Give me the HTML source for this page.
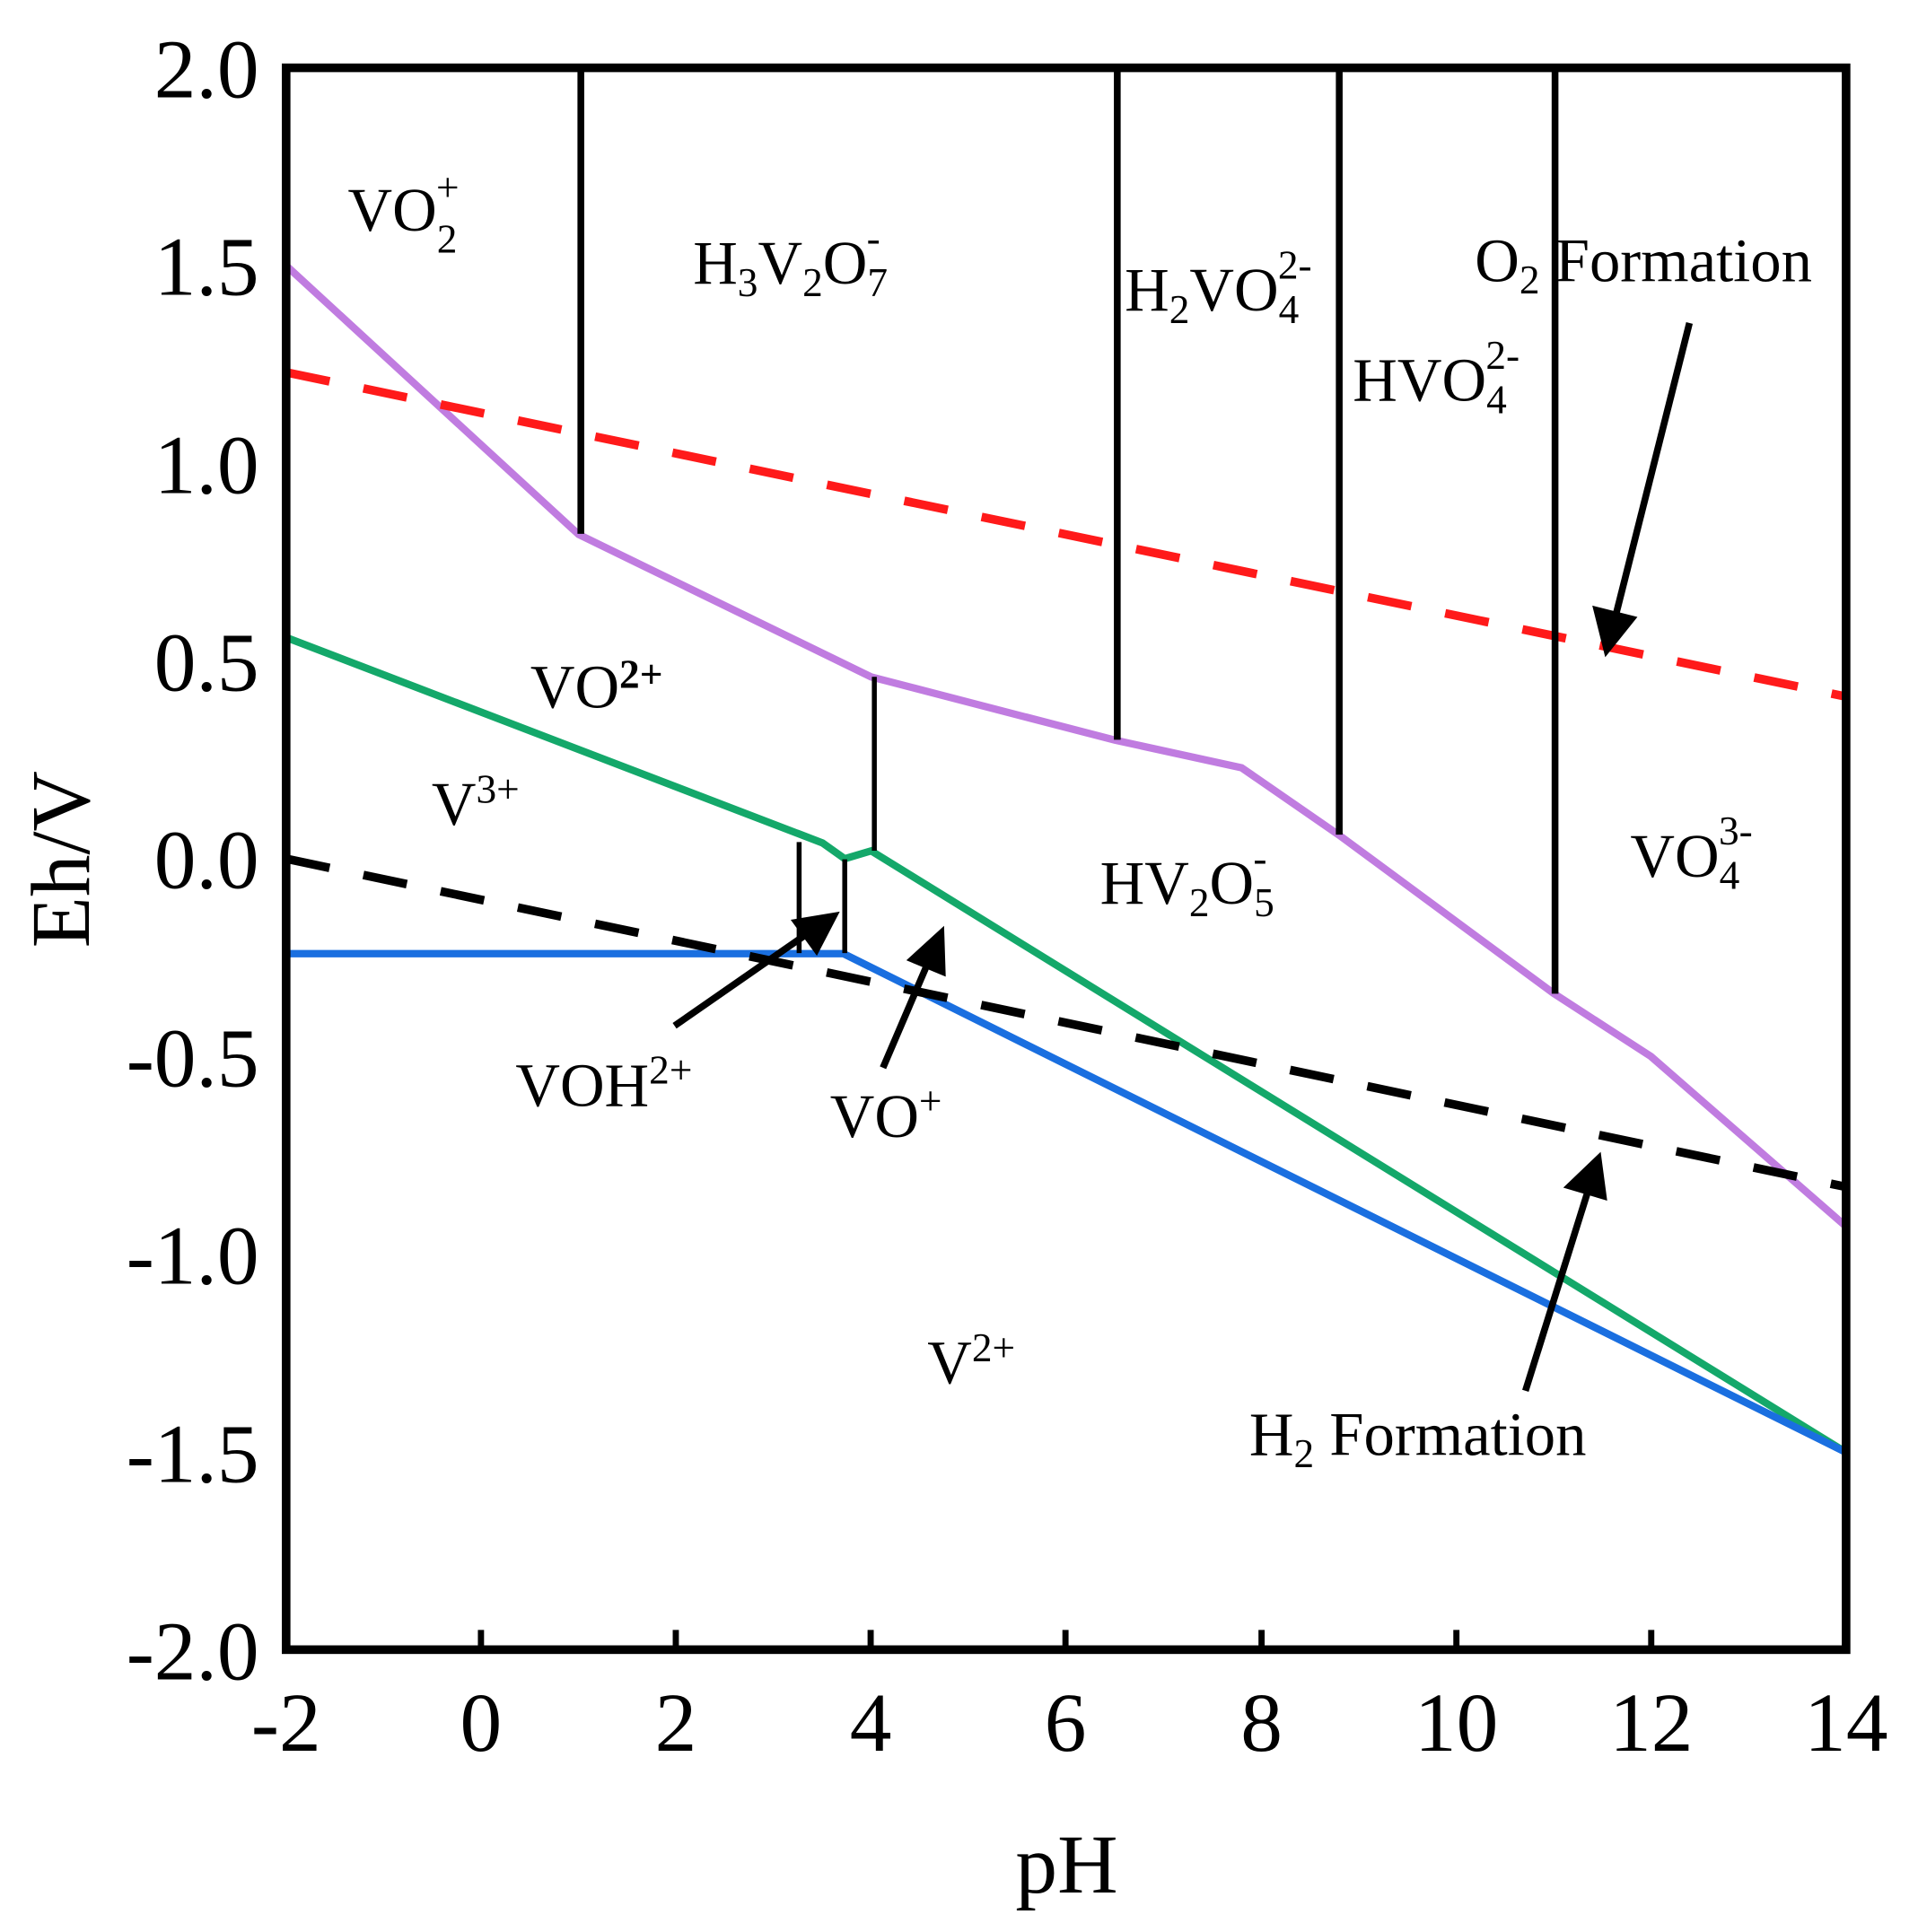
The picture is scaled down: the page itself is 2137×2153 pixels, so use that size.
<!DOCTYPE html>
<html><head><style>html,body{margin:0;padding:0;background:#fff}svg{display:block}</style></head>
<body>
<svg width="2137" height="2153" viewBox="0 0 1555.3 1567" xmlns="http://www.w3.org/2000/svg" font-family="Liberation Serif, serif">
<!-- series -->
<polyline fill="none" stroke="#c07ce0" stroke-width="6" points="232,215.4 469.2,433.5 706.4,549 904,600.3 1006.8,622.7 1085.8,677.3 1259.7,805.6 1338.8,856.9 1497,994.8"/>
<polyline fill="none" stroke="#14a86a" stroke-width="6" points="232,517 667,683.7 685,696.5 706.4,690.1 1497,1178"/>
<polyline fill="none" stroke="#1a6fe0" stroke-width="6" points="232,773.5 684,773.5 1497,1178"/>
<line x1="232" y1="302" x2="1497" y2="565" stroke="#ff1a1a" stroke-width="7" stroke-dasharray="36,28"/>
<line x1="232" y1="696.5" x2="1497" y2="962.7" stroke="#000" stroke-width="7" stroke-dasharray="36,28"/>
<!-- verticals -->
<g stroke="#000">
<line x1="471" y1="55" x2="471" y2="433" stroke-width="5.5"/>
<line x1="906" y1="55" x2="906" y2="600" stroke-width="5.5"/>
<line x1="1086" y1="55" x2="1086" y2="677" stroke-width="5.5"/>
<line x1="1261" y1="55" x2="1261" y2="806" stroke-width="5.5"/>
<line x1="709" y1="549" x2="709" y2="690" stroke-width="4"/>
<line x1="648" y1="683" x2="648" y2="773" stroke-width="4"/>
<line x1="685" y1="697" x2="685" y2="773" stroke-width="4"/>
</g>
<!-- arrows -->
<g stroke="#000" stroke-width="5.5" fill="#000">
<line x1="1370" y1="262" x2="1310" y2="500"/><polygon points="1303,527 1295,495 1323,502"/>
<line x1="1237" y1="1128" x2="1288" y2="965"/><polygon points="1296,940 1300,970 1273,962"/>
<line x1="547" y1="832" x2="655" y2="757"/><polygon points="676,743 662,770 646,748"/>
<line x1="716" y1="866" x2="752" y2="782"/><polygon points="763,757 764,788 740,778"/>
</g>
<!-- frame -->
<rect x="232" y="55" width="1265" height="1283" fill="none" stroke="#000" stroke-width="7"/>
<g stroke="#000" stroke-width="5">
<line x1="390" y1="1338" x2="390" y2="1322"/><line x1="548" y1="1338" x2="548" y2="1322"/>
<line x1="706" y1="1338" x2="706" y2="1322"/><line x1="864" y1="1338" x2="864" y2="1322"/>
<line x1="1023" y1="1338" x2="1023" y2="1322"/><line x1="1181" y1="1338" x2="1181" y2="1322"/>
<line x1="1339" y1="1338" x2="1339" y2="1322"/>
</g>
<!-- tick labels -->
<g font-size="68" text-anchor="end">
<text x="210" y="79">2.0</text><text x="210" y="239">1.5</text><text x="210" y="400">1.0</text>
<text x="210" y="560">0.5</text><text x="210" y="720">0.0</text><text x="210" y="881">-0.5</text>
<text x="210" y="1041">-1.0</text><text x="210" y="1202">-1.5</text><text x="210" y="1362">-2.0</text>
</g>
<g font-size="68" text-anchor="middle">
<text x="232" y="1420">-2</text><text x="390" y="1420">0</text><text x="548" y="1420">2</text>
<text x="706" y="1420">4</text><text x="864" y="1420">6</text><text x="1023" y="1420">8</text>
<text x="1181" y="1420">10</text><text x="1339" y="1420">12</text><text x="1497" y="1420">14</text>
<text x="865" y="1535" font-size="68">pH</text>
</g>
<text transform="translate(72,697) rotate(-90)" font-size="68" text-anchor="middle">Eh/V</text>
<!-- region labels -->
<g font-size="50">
<text x="282" y="187">VO<tspan font-size="33" dy="18">2</tspan><tspan font-size="33" dx="-17" dy="-42">+</tspan></text>
<text x="562" y="230">H<tspan font-size="33" dy="10">3</tspan><tspan dy="-10">V</tspan><tspan font-size="33" dy="10">2</tspan><tspan dy="-10">O</tspan><tspan font-size="33" dy="10">7</tspan><tspan font-size="33" dx="-17" dy="-36">-</tspan></text>
<text x="912" y="252">H<tspan font-size="33" dy="10">2</tspan><tspan dy="-10">VO</tspan><tspan font-size="33" dy="10">4</tspan><tspan font-size="33" dx="-17" dy="-36">2-</tspan></text>
<text x="1097" y="325">HVO<tspan font-size="33" dy="10">4</tspan><tspan font-size="33" dx="-17" dy="-36">2-</tspan></text>
<text x="1196" y="228">O<tspan font-size="33" dy="10">2</tspan><tspan dy="-10"> Formation</tspan></text>
<text x="430" y="574">VO<tspan font-size="33" font-weight="bold" dy="-16">2+</tspan></text>
<text x="350" y="669">V<tspan font-size="33" dy="-18">3+</tspan></text>
<text x="892" y="733">HV<tspan font-size="33" dy="10">2</tspan><tspan dy="-10">O</tspan><tspan font-size="33" dy="10">5</tspan><tspan font-size="33" dx="-17" dy="-36">-</tspan></text>
<text x="1322" y="711">VO<tspan font-size="33" dy="10">4</tspan><tspan font-size="33" dx="-17" dy="-36">3-</tspan></text>
<text x="418" y="897">VOH<tspan font-size="33" dy="-18">2+</tspan></text>
<text x="673" y="922">VO<tspan font-size="33" dy="-18">+</tspan></text>
<text x="752" y="1122">V<tspan font-size="33" dy="-18">2+</tspan></text>
<text x="1013" y="1180">H<tspan font-size="33" dy="10">2</tspan><tspan dy="-10"> Formation</tspan></text>
</g>
</svg>
</body></html>
